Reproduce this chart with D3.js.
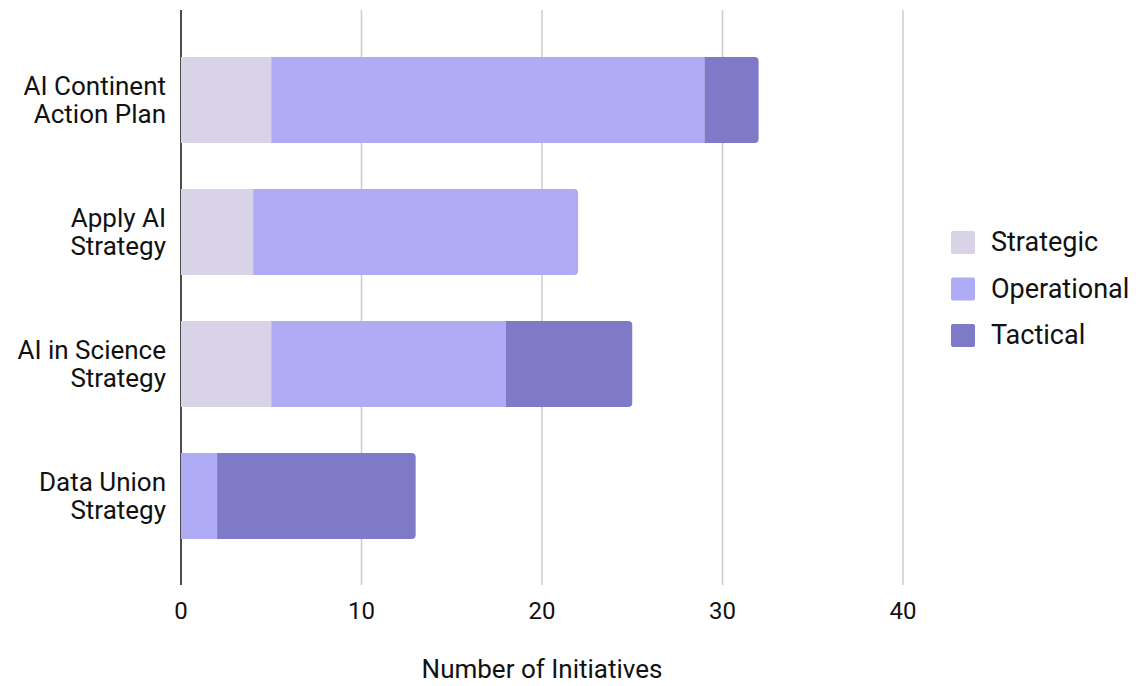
<!DOCTYPE html>
<html>
<head>
<meta charset="utf-8">
<script src="https://cdn.jsdelivr.net/npm/d3@7"></script>
<style>
  body { margin: 0; background: #fff; }
  text { font-family: Roboto, "Noto Sans", sans-serif; fill: #111; }
</style>
</head>
<body>
<div id="chart"></div>
<script>
var categories = [["AI Continent", "Action Plan"], ["Apply AI", "Strategy"], ["AI in Science", "Strategy"], ["Data Union", "Strategy"]];
var seriesNames = ["Strategic", "Operational", "Tactical"];
var strategic = [5, 4, 5, 0];
var operational = [24, 18, 13, 2];
var tactical = [3, 0, 7, 11];
var xTicks = [0, 10, 20, 30, 40];
var colors = ["#d8d3e7", "#b0abf5", "#7f7ac8"];

var w = 1138, h = 686;
var svg = d3.select("#chart").append("svg")
  .attr("width", w)
  .attr("height", h);

var x = d3.scaleLinear().domain([0, 40]).range([181, 903]);
var y = d3.scaleBand().domain(d3.range(categories.length)).range([34, 562]).paddingInner(0.35).paddingOuter(0.175);

// gridlines
svg.selectAll("line.grid")
  .data(xTicks.slice(1))
  .enter().append("line")
  .attr("x1", function(d) { return x(d); })
  .attr("x2", function(d) { return x(d); })
  .attr("y1", 10).attr("y2", 585)
  .attr("stroke", "#cccccc").attr("stroke-width", 1.5);

// zero axis line
svg.append("line")
  .attr("x1", x(0)).attr("x2", x(0))
  .attr("y1", 10).attr("y2", 585)
  .attr("stroke", "#111").attr("stroke-width", 1.5);

var data = categories.map(function(c, i) {
  return { Strategic: strategic[i], Operational: operational[i], Tactical: tactical[i], i: i };
});
var stacked = d3.stack().keys(seriesNames)(data);

function lastKey(d) {
  var k = -1;
  seriesNames.forEach(function(s, j) { if (d[s] > 0) k = j; });
  return k;
}

function segPath(x0, x1, y0, bh, rounded) {
  var r = rounded ? Math.min(4, x1 - x0) : 0;
  return "M" + x0 + "," + y0 +
    "H" + (x1 - r) +
    "Q" + x1 + "," + y0 + " " + x1 + "," + (y0 + r) +
    "V" + (y0 + bh - r) +
    "Q" + x1 + "," + (y0 + bh) + " " + (x1 - r) + "," + (y0 + bh) +
    "H" + x0 + "Z";
}

stacked.forEach(function(layer, j) {
  svg.append("g").attr("fill", colors[j])
    .selectAll("path")
    .data(layer.filter(function(d) { return d[1] > d[0]; }))
    .enter().append("path")
    .attr("d", function(d) {
      return segPath(x(d[0]), x(d[1]), y(d.data.i), y.bandwidth(), lastKey(d.data) === j);
    });
});

// category labels
var lab = svg.selectAll("text.cat")
  .data(categories)
  .enter().append("text")
  .attr("text-anchor", "end")
  .attr("font-size", 26)
  .attr("x", 166)
  .attr("y", function(d, i) { return y(i) + y.bandwidth() / 2 - 5; });
lab.selectAll("tspan")
  .data(function(d) { return d; })
  .enter().append("tspan")
  .attr("x", 166)
  .attr("dy", function(d, k) { return k === 0 ? 0 : 28; })
  .text(function(d) { return d; });

// x tick labels
svg.selectAll("text.tick")
  .data(xTicks)
  .enter().append("text")
  .attr("text-anchor", "middle")
  .attr("font-size", 24)
  .attr("x", function(d) { return x(d); })
  .attr("y", 619)
  .text(function(d) { return d; });

svg.append("text")
  .attr("text-anchor", "middle")
  .attr("font-size", 26)
  .attr("x", x(20))
  .attr("y", 678)
  .text("Number of Initiatives");

// legend
var leg = svg.selectAll("g.leg")
  .data(seriesNames)
  .enter().append("g")
  .attr("transform", function(d, i) { return "translate(951," + (231 + i * 46.5) + ")"; });
leg.append("rect")
  .attr("width", 24).attr("height", 23).attr("rx", 2)
  .attr("fill", function(d, i) { return colors[i]; });
leg.append("text")
  .attr("x", 40).attr("y", 20)
  .attr("font-size", 27)
  .text(function(d) { return d; });
</script>
</body>
</html>
